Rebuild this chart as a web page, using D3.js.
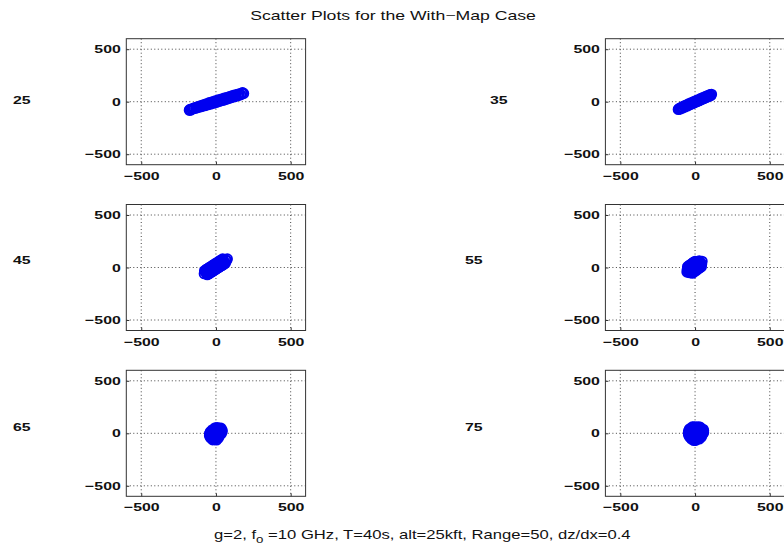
<!DOCTYPE html>
<html>
<head>
<meta charset="utf-8">
<script src="https://cdn.jsdelivr.net/npm/d3@7"></script>
<style>
  body { margin: 0; background: #fff; }
  text { font-family: "Liberation Sans", Arial, sans-serif; fill: #111; }
</style>
</head>
<body>
<svg id="chart" width="784" height="546"></svg>
<script>
// tick values and panel labels
const xTicks = [-500, 0, 500];
const yTicks = [-500, 0, 500];
const panelLabels = ["25", "35", "45", "55", "65", "75"];

// scatter samples [x, y]
const g25 = [[-178,-82],[-174,-74],[-168,-80],[-162,-70],[-155,-68],[-145,-60],[-135,-62],[-125,-50],[-115,-54],[-105,-40],
  [-95,-46],[-85,-30],[-75,-38],[-65,-20],[-55,-30],[-45,-10],[-35,-22],[-25,-2],[-15,-14],[-5,8],[5,-6],[15,16],[25,4],
  [35,24],[45,12],[55,33],[65,21],[75,42],[85,30],[95,50],[105,39],[115,59],[125,48],[135,67],[145,57],[155,75],[165,66],
  [172,80],[178,86],[185,78],
  [-150,-64],[-130,-56],[-110,-47],[-90,-38],[-70,-30],[-50,-21],[-30,-12],[-10,-4],[10,5],[30,13],[50,22],[70,31],
  [90,39],[110,48],[130,57],[150,66]];
const g35 = [[-112,-74],[-108,-66],[-100,-70],[-92,-54],[-84,-60],[-76,-42],[-68,-50],[-60,-32],[-52,-40],[-44,-22],
  [-36,-30],[-28,-12],[-20,-20],[-12,-2],[-4,-10],[4,8],[12,0],[20,18],[28,10],[36,28],[44,20],[52,38],[60,30],[68,48],
  [76,40],[84,58],[92,50],[100,66],[106,60],[110,70],
  [-96,-62],[-80,-52],[-64,-42],[-48,-31],[-32,-21],[-16,-11],[0,-1],[16,9],[32,19],[48,29],[64,39],[80,49],[96,59]];
const g45 = [[-78,-59],[-67,-48],[-56,-40],[-45,-29],[-34,-18],[-23,-10],[-12,2],[-1,11],[10,20],[21,32],[32,40],[43,52],
  [54,60],[65,72],[76,82],[-58,-68],[-47,-60],[-36,-48],[-25,-40],[-14,-28],[-3,-20],[8,-8],[19,0],[30,12],[41,20],[52,32],
  [63,40],[-76,-30],[-65,-18],[-54,-10],[-43,2],[-32,10],[-21,22],[-10,30],[1,42],[12,50],[23,62],[34,70],[45,82],
  [-62,-54],[-40,-34],[-18,-14],[4,6],[26,26],[48,46],[70,66],
  [-60,-22],[-38,-4],[-16,16],[6,36],[28,56],[-42,-54],[-20,-34],[2,-14],[24,6],[46,26]];
const g55 = [[-54,-44],[-44,-34],[-34,-23],[-24,-13],[-14,-3],[-4,7],[6,18],[16,28],[26,38],[36,49],[47,59],
  [-36,-49],[-26,-38],[-16,-28],[-6,-18],[4,-8],[14,3],[24,13],[34,23],[44,34],
  [-52,-19],[-42,-8],[-32,2],[-22,12],[-12,22],[-2,33],[8,43],[18,53],[28,64],
  [-18,-54],[-8,-44],[2,-34],[12,-24],[22,-13],[32,-3],[42,7],
  [-50,8],[-40,18],[-30,28],[-20,38],[-10,49],[0,59],
  [-48,-36],[-28,-16],[-8,4],[12,24],[32,44],[-30,-40],[-10,-20],[10,0],[30,20],
  [-40,-4],[-20,16],[0,36],[20,56]];
const g65 = [[-5,52],[8,54],[21,50],[34,48],
  [-24,33],[-11,35],[2,32],[15,34],[28,31],[41,30],
  [-37,14],[-24,15],[-11,12],[2,14],[15,13],[28,12],[41,14],
  [-43,-5],[-30,-4],[-17,-6],[-4,-5],[9,-3],[22,-6],[35,-4],
  [-43,-24],[-30,-23],[-17,-25],[-4,-24],[9,-22],[22,-26],
  [-36,-43],[-23,-42],[-10,-44],[3,-41],[16,-45],
  [-22,-62],[-9,-60],[4,-63]];
const g75 = [[-18,60],[-5,62],[8,59],[21,61],[34,58],
  [-37,41],[-24,40],[-11,42],[2,39],[15,41],[28,40],[41,42],[54,38],
  [-43,22],[-30,21],[-17,23],[-4,20],[9,22],[22,21],[35,23],[48,20],[57,24],
  [-45,3],[-32,2],[-19,4],[-6,1],[7,3],[20,2],[33,4],[46,1],[57,5],
  [-43,-16],[-30,-15],[-17,-17],[-4,-14],[9,-16],[22,-15],[35,-17],[48,-14],
  [-36,-35],[-23,-34],[-10,-36],[3,-33],[16,-35],[29,-34],[42,-36],
  [-24,-54],[-11,-53],[2,-55],[15,-52],[28,-54],
  [-8,-68],[5,-67]];

const series = [g25, g35, g45, g55, g65, g75];

const svg = d3.select("#chart");

// layout
const colLeft = [126.3, 605.4];
const rowTop = [38.7, 204.5, 370.3];
const pw = 179.3, ph = 126;
const labelX = [[13, 490], [13, 465], [13, 465]];
const labelY = [103.5, 264, 431];
const sx = 1.38; // horizontal stretch of the lettering

series.forEach((pts, i) => {
  const r = Math.floor(i / 2), c = i % 2;
  const left = colLeft[c], top = rowTop[r];

  const x = d3.scaleLinear().domain([-600, 600]).range([left, left + pw]);
  const y = d3.scaleLinear().domain([-600, 600]).range([top + ph, top]);

  const g = svg.append("g");

  // box
  g.append("rect")
    .attr("x", left).attr("y", top)
    .attr("width", pw).attr("height", ph)
    .attr("fill", "#fff")
    .attr("stroke", "#333")
    .attr("stroke-width", 1);

  // dotted grid
  g.selectAll(".gx").data(xTicks).enter().append("line")
    .attr("x1", (d) => x(d)).attr("x2", (d) => x(d))
    .attr("y1", top).attr("y2", top + ph)
    .attr("stroke", "#444").attr("stroke-width", 1)
    .attr("stroke-dasharray", "1,2.5");
  g.selectAll(".gy").data(yTicks).enter().append("line")
    .attr("y1", (d) => y(d)).attr("y2", (d) => y(d))
    .attr("x1", left).attr("x2", left + pw)
    .attr("stroke", "#444").attr("stroke-width", 1)
    .attr("stroke-dasharray", "1,2.5");

  // x axis
  const ax = g.append("g")
    .attr("transform", `translate(0,${top + ph})`)
    .call(d3.axisBottom(x).tickValues(xTicks).tickSize(-3).tickSizeOuter(0).tickPadding(7)
      .tickFormat((d) => (d < 0 ? "\u2212" + Math.abs(d) : d)));
  ax.select(".domain").remove();
  ax.selectAll("line").attr("stroke", "#333");
  ax.selectAll("text")
    .attr("dy", "0.71em")
    .attr("transform", `scale(${sx},1)`)
    .style("font-size", "11.5px")
    .style("font-weight", "bold");

  // y axis
  const ay = g.append("g")
    .attr("transform", `translate(${left},0)`)
    .call(d3.axisLeft(y).tickValues(yTicks).tickSize(-3).tickSizeOuter(0).tickPadding(4)
      .tickFormat((d) => (d < 0 ? "\u2212" + Math.abs(d) : d)));
  ay.select(".domain").remove();
  ay.selectAll("line").attr("stroke", "#333");
  ay.selectAll("text")
    .attr("transform", `scale(${sx},1)`)
    .style("font-size", "11.5px")
    .style("font-weight", "bold");

  // points
  g.selectAll("circle").data(pts).enter().append("circle")
    .attr("cx", (d) => x(d[0]))
    .attr("cy", (d) => y(d[1]))
    .attr("r", 4.7)
    .attr("fill", "none")
    .attr("stroke", "#0000f0")
    .attr("stroke-width", 1.9);

  // panel label
  svg.append("text")
    .attr("transform", `translate(${labelX[r][c]},${labelY[r]}) scale(${sx},1)`)
    .style("font-size", "11.5px")
    .style("font-weight", "bold")
    .text(panelLabels[i]);
});

// title
const title = svg.append("text")
  .attr("text-anchor", "middle")
  .style("font-size", "12.5px")
  .text("Scatter Plots for the With\u2212Map Case");
const tw = title.node().getComputedTextLength();
title.attr("transform", `translate(393,20) scale(${286 / tw},1)`);

// footer
const foot = svg.append("text").style("font-size", "12.5px");
foot.append("tspan").text("g=2, f");
foot.append("tspan").attr("dy", 4).style("font-size", "10px").text("o");
foot.append("tspan").attr("dy", -4).text(" =10 GHz, T=40s, alt=25kft, Range=50, dz/dx=0.4");
const fw = foot.node().getComputedTextLength();
foot.attr("transform", `translate(214,539) scale(${417 / fw},1)`);
</script>
</body>
</html>
